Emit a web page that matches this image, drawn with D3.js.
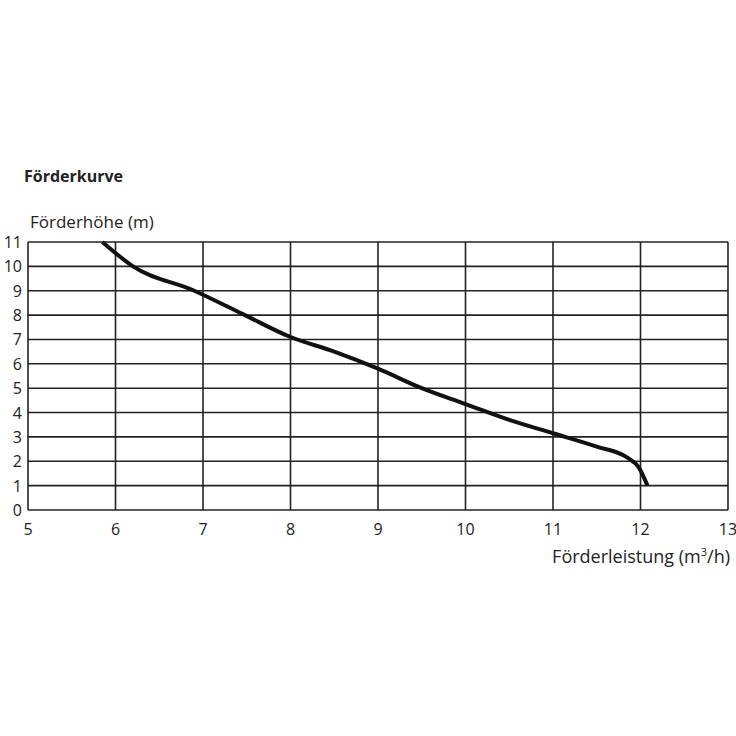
<!DOCTYPE html>
<html>
<head>
<script src="https://d3js.org/d3.v7.min.js"></script>
<style>
  body { margin: 0; background: white; }
  text { font-family: "Open Sans", "DejaVu Sans", sans-serif; fill: #222; }
</style>
</head>
<body>
<svg id="chart" width="736" height="736"></svg>
<script>
// flow rate (m3/h) vs head (m)
var flow = [5.85, 6.2, 6.9, 7.45, 8.0, 8.5, 9.0, 9.5, 10.0, 10.5, 11.0, 11.5, 11.85, 11.98, 12.08];
var head = [11, 10, 9.0, 8.05, 7.1, 6.5, 5.8, 5.0, 4.35, 3.7, 3.15, 2.6, 2.15, 1.75, 1.0];
var xTicks = [5, 6, 7, 8, 9, 10, 11, 12, 13];
var yTicks = [0, 1, 2, 3, 4, 5, 6, 7, 8, 9, 10, 11];

var svg = d3.select("#chart");
var x = d3.scaleLinear().domain([5, 13]).range([28, 728]);
var y = d3.scaleLinear().domain([0, 11]).range([510, 242]);

// grid
svg.append("g").selectAll("line").data(xTicks).enter().append("line")
  .attr("x1", d => x(d)).attr("x2", d => x(d))
  .attr("y1", y(0)).attr("y2", y(11))
  .attr("stroke", "#222").attr("stroke-width", 1.6);
svg.append("g").selectAll("line").data(yTicks).enter().append("line")
  .attr("x1", x(5)).attr("x2", x(13))
  .attr("y1", d => y(d)).attr("y2", d => y(d))
  .attr("stroke", "#222").attr("stroke-width", 1.6);

// tick labels
svg.append("g").selectAll("text").data(xTicks).enter().append("text")
  .attr("x", d => x(d)).attr("y", 535)
  .attr("text-anchor", "middle").attr("font-size", 16)
  .text(d => d);
svg.append("g").selectAll("text").data(yTicks).enter().append("text")
  .attr("x", 22).attr("y", d => y(d) + 6)
  .attr("text-anchor", "end").attr("font-size", 16)
  .text(d => d);

// curve
var line = d3.line().x(d => x(d[0])).y(d => y(d[1])).curve(d3.curveMonotoneX);
svg.append("path")
  .datum(flow.map((f, i) => [f, head[i]]))
  .attr("d", line)
  .attr("fill", "none").attr("stroke", "#111").attr("stroke-width", 4);

// titles
svg.append("text").attr("x", 24).attr("y", 182)
  .attr("font-size", 16).attr("font-weight", "bold").text("Förderkurve");
svg.append("text").attr("x", 30).attr("y", 228)
  .attr("font-size", 17).text("Förderhöhe (m)");
var xl = svg.append("text").attr("x", 730).attr("y", 563)
  .attr("text-anchor", "end").attr("font-size", 18);
xl.append("tspan").text("Förderleistung (m");
xl.append("tspan").attr("font-size", 11).attr("dy", -7).text("3");
xl.append("tspan").attr("dy", 7).text("/h)");
</script>
</body>
</html>
